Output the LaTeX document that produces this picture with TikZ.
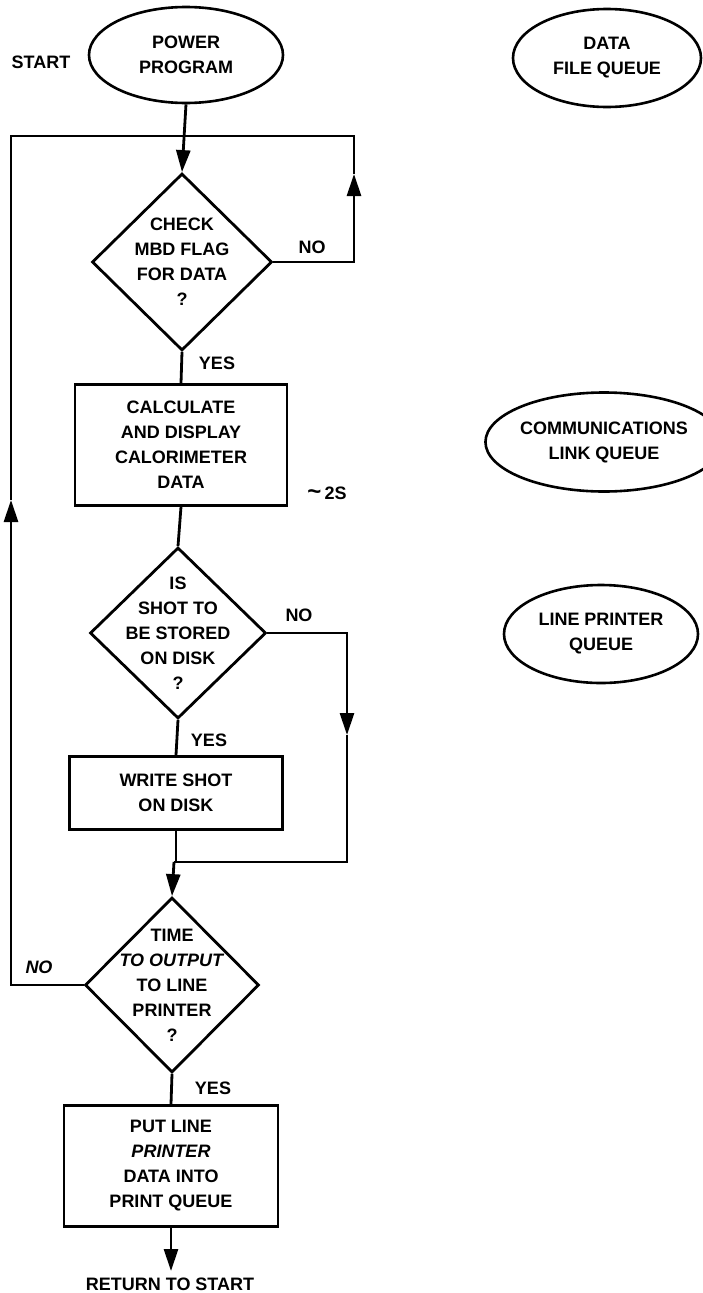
\documentclass[tikz,border=0pt]{standalone}
\usepackage{fontspec}
\setmainfont{Liberation Sans}
\usetikzlibrary{arrows.meta,shapes.geometric}
\begin{document}
\begin{tikzpicture}[x=1pt,y=-1pt,
  every node/.style={font=\fontsize{18}{25}\selectfont\bfseries, align=center, inner sep=0pt},
  oval/.style={draw, ellipse, line width=2.6pt, minimum width=194pt, minimum height=96pt},
  box/.style={draw, rectangle, line width=2.8pt},
  decision/.style={draw, diamond, line width=2.8pt, aspect=1},
  line/.style={line width=2.8pt},
  flow/.style={line width=2.8pt, -{Triangle[length=22pt,width=14pt]}},
  tag/.style={anchor=center}]
\useasboundingbox (0,0) rectangle (702,1293);

% main program column
\node[tag] (start) at (41,62) {START};
\node[oval] (power) at (186,55) {POWER\\PROGRAM};
\node[decision, minimum width=180pt, minimum height=177pt,
      label={center:{CHECK\\MBD FLAG\\FOR DATA\\?}}] (d1) at (182,262) {};
\node[box, minimum width=212pt, minimum height=121pt] (calc) at (181,445)
      {CALCULATE\\AND DISPLAY\\CALORIMETER\\DATA};
\node[decision, minimum width=176pt, minimum height=171pt,
      label={center:{IS\\SHOT TO\\BE STORED\\ON DISK\\?}}] (d2) at (178,633) {};
\node[box, minimum width=213pt, minimum height=73pt] (write) at (176,793)
      {WRITE SHOT\\ON DISK};
\node[decision, minimum width=174pt, minimum height=175pt,
      label={center:{TIME\\\textit{TO OUTPUT}\\TO LINE\\PRINTER\\?}}] (d3) at (172,985) {};
\node[box, minimum width=214pt, minimum height=121pt] (put) at (171,1166)
      {PUT LINE\\\textit{PRINTER}\\DATA INTO\\PRINT QUEUE};
\node[tag] (ret) at (170,1284) {RETURN TO START};

% queues
\node[oval, minimum width=188pt, minimum height=98pt] (dfq) at (607,58) {DATA\\FILE QUEUE};
\node[oval, minimum width=194pt, minimum height=99pt] (clq) at (604,442) {COMMUNICATIONS\\LINK QUEUE};
\node[oval, minimum width=194pt, minimum height=98pt] (lpq) at (601,634) {LINE PRINTER\\QUEUE};

% branch labels
\node[tag] (no1) at (312,247) {NO};
\node[tag] (yes1) at (217,363) {YES};
\node[tag] (time) at (327,493) {{\fontsize{24}{24}\selectfont\textasciitilde}\,2S};
\node[tag] (no2) at (299,615) {NO};
\node[tag] (yes2) at (209,740) {YES};
\node[tag] (no3) at (39,967) {\textit{NO}};
\node[tag] (yes3) at (213,1088) {YES};

% routing points
\coordinate (jtop) at (183,136);
\coordinate (rmid) at (354,174);
\coordinate (lmid) at (11,500);
\coordinate (dmid) at (347,735);
\coordinate (jbot) at (174,862);

% connectors
\draw[flow] (power.south) -- (d1.north);
\draw[flow] (d1.east) -| (rmid);
\draw[line] (rmid) |- (jtop);
\draw[flow] (d3.west) -| (lmid);
\draw[line] (lmid) |- (jtop);
\draw[line] (d1.south) -- (calc.north);
\draw[line] (calc.south) -- (d2.north);
\draw[line] (d2.south) -- (write.south |- write.north);
\draw[flow] (d2.east) -| (dmid);
\draw[line] (dmid) |- (jbot);
\draw[line] (write.south) -- (write.south |- jbot);
\draw[flow] (jbot) -- (d3.north);
\draw[line] (d3.south) -- (put.north);
\draw[flow] (put.south) -- (put.south |- 0,1271);
\end{tikzpicture}
\end{document}
